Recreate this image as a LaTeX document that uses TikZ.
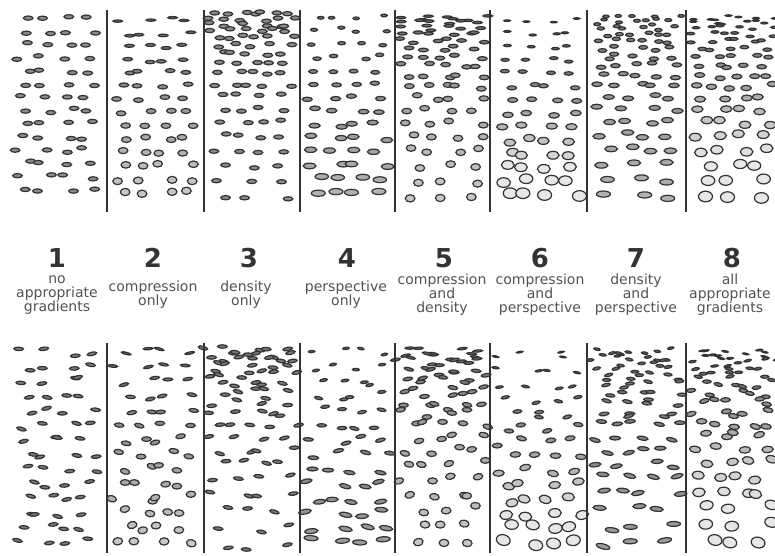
\documentclass[tikz,border=0pt]{standalone}
\usepackage{fontspec}
\setmainfont{DejaVu Sans}
\usepackage{tikz}
\usetikzlibrary{positioning}
\definecolor{inkgray}{HTML}{333333}
\tikzstyle{divider} = [line width=1.8pt, inkgray]
\tikzstyle{blob} = [draw=inkgray, line width=1.2pt]
\tikzstyle{condnum} = [inkgray, inner sep=0pt, font=\bfseries\fontsize{26}{26}\selectfont]
\tikzstyle{condtext} = [inkgray!85, inner sep=0pt, align=center, font=\fontsize{14}{14}\selectfont]

% texture panel: x, y (top), width, height, compression, density, perspective, seed, irregular
\newcommand{\texturepanel}[9]{%
  \pgfmathsetseed{#8}%
  \pgfmathtruncatemacro{\lastrow}{#6==1 ? 17 : 13}%
  \foreach \i in {0,...,\lastrow}{%
    \pgfmathsetmacro{\rowt}{\i/\lastrow}%
    \pgfmathsetmacro{\rowy}{#2 + #4*(#6==1 ? 0.4*\rowt+0.6*\rowt*\rowt : \rowt)}%
    \pgfmathtruncatemacro{\ncol}{#6==1 ? round(6.5-3.5*\rowt) : 4}%
    \pgfmathsetmacro{\rx}{#7==1 ? 3.2+3.8*\rowt : 4.8}%
    \pgfmathsetmacro{\ry}{\rx*(#5==1 ? 0.24+0.52*\rowt : (#9==1 ? 0.36 : 0.44))}%
    \pgfmathtruncatemacro{\shade}{max(12, 100 - 20*\ry)}%
    \foreach \j in {1,...,\ncol}{%
      \pgfmathsetmacro{\cx}{#1 + #3*(\j-0.5)/\ncol + rand*#3*(#9==1 ? 0.13 : 0.09)}%
      \pgfmathsetmacro{\cy}{\rowy + rand*(#9==1 ? 4 : 2.5)}%
      \pgfmathsetmacro{\rot}{#9==1 ? rand*16 : 0}%
      \draw[blob, fill=inkgray!\shade!white, rotate around={\rot:(\cx,\cy)}] (\cx,\cy) ellipse [x radius=\rx, y radius=\ry];
    }
  }
}

\begin{document}
\begin{tikzpicture}[x=1pt, y=-1pt]
\useasboundingbox (0,0) rectangle (775,555);

% top row of textures
\texturepanel{12}{18}{88}{172}{0}{0}{0}{11}{0}
\texturepanel{112}{20}{85}{172}{1}{0}{0}{12}{0}
\texturepanel{208}{14}{88}{186}{0}{1}{0}{13}{0}
\texturepanel{304}{16}{87}{176}{0}{0}{1}{14}{0}
\texturepanel{399}{18}{88}{180}{1}{1}{0}{15}{0}
\texturepanel{495}{20}{88}{174}{1}{0}{1}{16}{0}
\texturepanel{593}{18}{88}{178}{0}{1}{1}{17}{0}
\texturepanel{691}{18}{84}{180}{1}{1}{1}{18}{0}

% bottom row of textures
\texturepanel{12}{352}{88}{190}{0}{0}{0}{21}{1}
\texturepanel{112}{352}{85}{190}{1}{0}{0}{22}{1}
\texturepanel{208}{350}{88}{196}{0}{1}{0}{23}{1}
\texturepanel{304}{352}{87}{190}{0}{0}{1}{24}{1}
\texturepanel{399}{352}{88}{192}{1}{1}{0}{25}{1}
\texturepanel{495}{356}{88}{186}{1}{0}{1}{26}{1}
\texturepanel{593}{352}{88}{192}{0}{1}{1}{27}{1}
\texturepanel{691}{352}{84}{190}{1}{1}{1}{28}{1}

% dividing lines
\foreach \dx in {107,204,300,395,490,587,686}{
  \draw[divider] (\dx,10) -- (\dx,212);
  \draw[divider] (\dx,343) -- (\dx,553);
}

% condition numbers and names
\node[condnum] (num1) at (57,258) {1};
\node[condnum] (num2) at (153,258) {2};
\node[condnum] (num3) at (249,258) {3};
\node[condnum] (num4) at (347,258) {4};
\node[condnum] (num5) at (444,258) {5};
\node[condnum] (num6) at (540,258) {6};
\node[condnum] (num7) at (636,258) {7};
\node[condnum] (num8) at (732,258) {8};

\node[condtext] (lab1) at (57,295) {no\\appropriate\\gradients};
\node[condtext] (lab2) at (153,295) {compression\\only};
\node[condtext] (lab3) at (246,295) {density\\only};
\node[condtext] (lab4) at (346,295) {perspective\\only};
\node[condtext] (lab5) at (442,295) {compression\\and\\density};
\node[condtext] (lab6) at (540,295) {compression\\and\\perspective};
\node[condtext] (lab7) at (636,295) {density\\and\\perspective};
\node[condtext] (lab8) at (730,295) {all\\appropriate\\gradients};
\end{tikzpicture}
\end{document}
